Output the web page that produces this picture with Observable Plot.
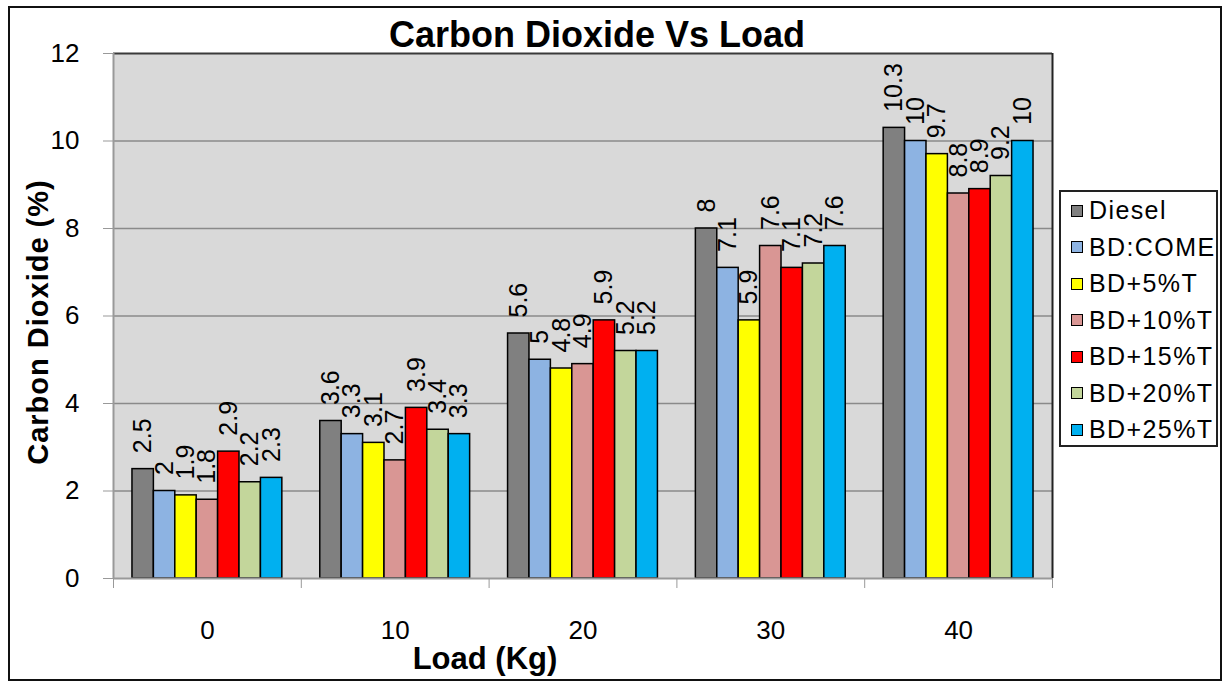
<!DOCTYPE html>
<html>
<head>
<meta charset="utf-8">
<script src="https://cdn.jsdelivr.net/npm/d3@7"></script>
<script src="https://cdn.jsdelivr.net/npm/@observablehq/plot@0.6"></script>
<style>
  html, body { margin: 0; padding: 0; background: #fff; }
  #wrap { position: relative; width: 1226px; height: 684px; overflow: hidden; font-family: "Liberation Sans", Arial, sans-serif; }
  #border { position: absolute; left: 8px; top: 6px; width: 1214px; height: 675px; border: 2px solid #111; box-sizing: border-box; pointer-events: none; }
  #chart { position: absolute; left: 0; top: 0; }
  .title { position: absolute; left: 597px; top: 14px; transform: translateX(-50%); font-weight: bold; font-size: 36px; white-space: nowrap; letter-spacing: 0px; }
  .xlabel { position: absolute; left: 485px; top: 641px; transform: translateX(-50%); font-weight: bold; font-size: 31px; white-space: nowrap; }
  .ylabel { position: absolute; left: 38px; top: 322px; transform: translate(-50%, -50%) rotate(-90deg); font-weight: bold; font-size: 29px; white-space: nowrap; letter-spacing: 1px; }
  .legend { position: absolute; left: 1059px; top: 190px; width: 159px; height: 257px; border: 2px solid #222; box-sizing: border-box; background: #fff; }
  .legend .item { position: absolute; left: 10px; display: flex; align-items: center; font-size: 25px; letter-spacing: 1.4px; white-space: nowrap; }
  .legend .sw { width: 10px; height: 10px; border: 1.5px solid #000; margin-right: 6px; }
</style>
</head>
<body>
<div id="wrap">
  <div id="chart"></div>
  <div class="title">Carbon Dioxide Vs Load</div>
  <div class="xlabel">Load (Kg)</div>
  <div class="ylabel">Carbon Dioxide (%)</div>
  <div class="legend" id="legend"></div>
  <div id="border"></div>
</div>
<script>
// ---- data ----
const loads = [0, 10, 20, 30, 40];
const series = ["Diesel", "BD:COME", "BD+5%T", "BD+10%T", "BD+15%T", "BD+20%T", "BD+25%T"];
const diesel = [2.5, 3.6, 5.6, 8, 10.3];
const bdCome = [2, 3.3, 5, 7.1, 10];
const bd5T   = [1.9, 3.1, 4.8, 5.9, 9.7];
const bd10T  = [1.8, 2.7, 4.9, 7.6, 8.8];
const bd15T  = [2.9, 3.9, 5.9, 7.1, 8.9];
const bd20T  = [2.2, 3.4, 5.2, 7.2, 9.2];
const bd25T  = [2.3, 3.3, 5.2, 7.6, 10];
const colors = ["#808080", "#8db3e2", "#ffff00", "#d99694", "#ff0000", "#c3d69b", "#00b0f0"];
const yTicks = [0, 2, 4, 6, 8, 10, 12];
const groupEdges = [-5, 5, 15, 25, 35, 45];

const seriesValues = [diesel, bdCome, bd5T, bd10T, bd15T, bd20T, bd25T];
const barW = 1.14; // bar width in load units (kg)
const table = [];
series.forEach((s, si) => {
  loads.forEach((load, li) => {
    const c = load + (si - (series.length - 1) / 2) * barW;
    table.push({series: s, load, value: seriesValues[si][li], x1: c - barW / 2, x2: c + barW / 2, xc: c});
  });
});

const chart = Plot.plot({
  width: 1226,
  height: 684,
  marginLeft: 113,
  marginRight: 174,
  marginTop: 53,
  marginBottom: 106,
  style: {fontFamily: "'Liberation Sans', Arial, sans-serif", fontSize: "26px", color: "#000", background: "transparent"},
  x: {domain: [-5, 45], axis: null},
  y: {domain: [0, 12], axis: null},
  color: {domain: series, range: colors},
  marks: [
    Plot.frame({fill: "#d9d9d9", stroke: null}),
    Plot.ruleY([2, 4, 6, 8, 10], {stroke: "#8a8a8a", strokeWidth: 1.5}),
    Plot.ruleY([12], {stroke: "#3a3a3a", strokeWidth: 2}),
    Plot.ruleX([45], {stroke: "#222", strokeWidth: 2}),
    Plot.rectY(table, {x1: "x1", x2: "x2", y: "value", fill: "series", stroke: "#000", strokeWidth: 1.5}),
    Plot.ruleX([-5], {stroke: "#999", strokeWidth: 2}),
    Plot.ruleY([0], {stroke: "#999", strokeWidth: 2}),
    Plot.axisY(yTicks, {tickSize: 10, tickPadding: 24, stroke: "#999", fill: "#000", fontSize: 26, label: null}),
    Plot.axisX(groupEdges, {tickSize: 10, tickFormat: () => "", stroke: "#999", label: null}),
    Plot.axisX(loads, {tickSize: 0, tickPadding: 42, fill: "#000", fontSize: 26, label: null}),
    Plot.text(table, {x: "xc", y: "value", text: d => String(d.value), rotate: -90, textAnchor: "start", dx: 0, dy: -16, fontSize: 25, fill: "#000"})
  ]
});
document.getElementById("chart").appendChild(chart);

// legend
const lg = document.getElementById("legend");
series.forEach((s, i) => {
  const it = document.createElement("div");
  it.className = "item";
  it.style.top = (4 + i * 36.5) + "px";
  const sw = document.createElement("span");
  sw.className = "sw";
  sw.style.background = colors[i];
  const tx = document.createElement("span");
  tx.textContent = s;
  it.appendChild(sw);
  it.appendChild(tx);
  lg.appendChild(it);
});
</script>
</body>
</html>
